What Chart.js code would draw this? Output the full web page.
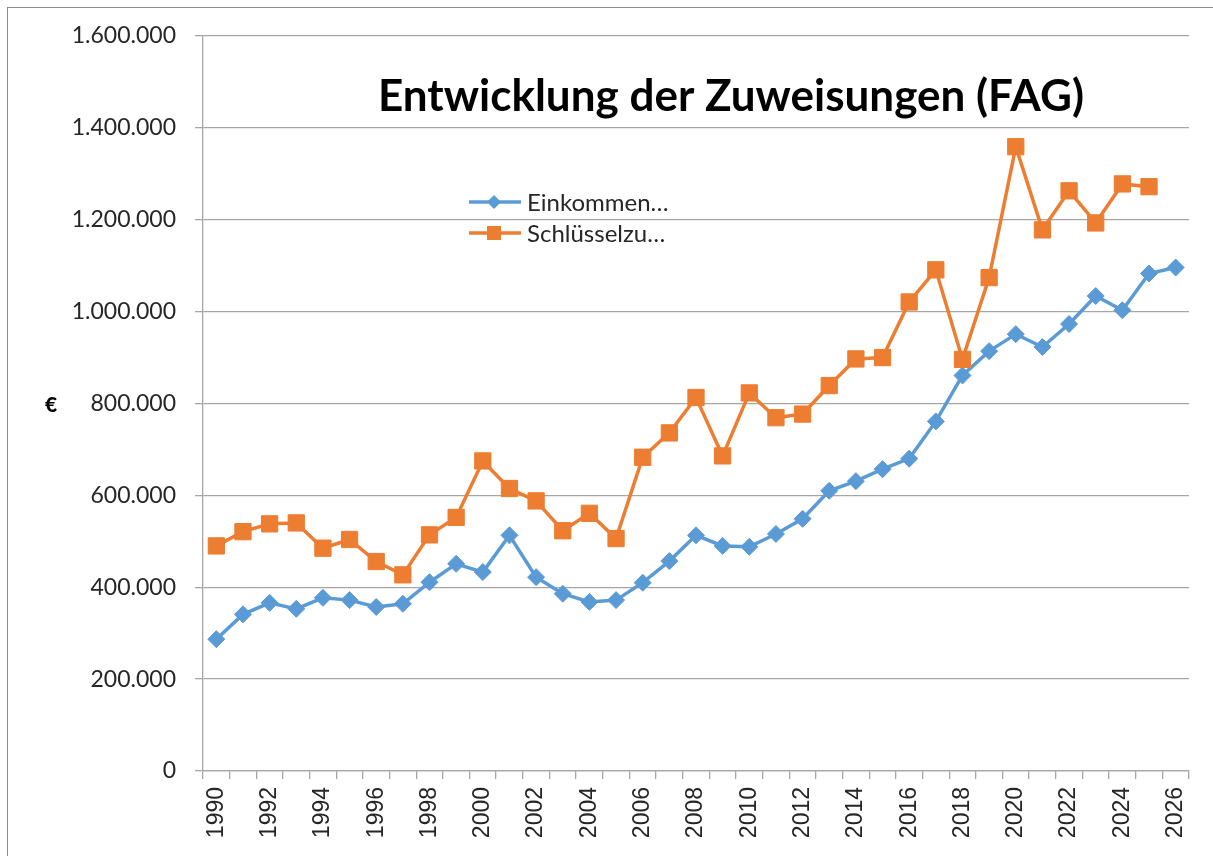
<!DOCTYPE html>
<html lang="de">
<head>
<meta charset="utf-8">
<title>Entwicklung der Zuweisungen (FAG)</title>
<script src="https://cdn.jsdelivr.net/npm/chart.js"></script>
<style>
  html, body { margin: 0; padding: 0; background: #fff; overflow: hidden; }
  #wrap { position: relative; width: 1213px; height: 856px; }
  #frame {
    position: absolute; left: 7px; top: 7px; width: 1300px; height: 1000px;
    border-left: 1px solid #8c8c8c; border-top: 1px solid #8c8c8c;
  }
  #chart { position: absolute; left: 0; top: 0; }
</style>
</head>
<body>
<div id="wrap">
  <div id="frame"></div>
  <canvas id="chart" width="1213" height="856"></canvas>
</div>
<script>
// Jahre (Kategorien)
const years = ["1990", "1991", "1992", "1993", "1994", "1995", "1996", "1997", "1998", "1999",
  "2000", "2001", "2002", "2003", "2004", "2005", "2006", "2007", "2008", "2009",
  "2010", "2011", "2012", "2013", "2014", "2015", "2016", "2017", "2018", "2019",
  "2020", "2021", "2022", "2023", "2024", "2025", "2026"]

// Einkommensteueranteil (blau)
const einkommen = [287000, 341000, 366000, 353000, 377000, 372000, 357000, 364000, 411000, 451000,
  433000, 513000, 422000, 386000, 368000, 372000, 410000, 457000, 513000, 490000,
  488000, 516000, 549000, 610000, 631000, 657000, 680000, 761000, 861000, 914000,
  951000, 923000, 973000, 1034000, 1003000, 1083000, 1096000]

// Schlüsselzuweisungen (orange)
const schluessel = [490000, 521000, 538000, 540000, 485000, 504000, 456000, 427000, 514000, 552000,
  675000, 615000, 588000, 523000, 561000, 506000, 683000, 736000, 813000, 686000,
  823000, 769000, 777000, 839000, 897000, 900000, 1021000, 1091000, 896000, 1074000,
  1359000, 1178000, 1263000, 1193000, 1278000, 1272000, null]

const seriesNames = ["Einkommen\u2026", "Schlüsselzu\u2026"]
const titleText = "Entwicklung der Zuweisungen (FAG)"

const BLUE = "#5b9bd5"
const ORANGE = "#ed7d31"
const GRID = "#a6a6a6"
const TEXT = "#262626"

// deutsche Tausendertrennung
function formatDe(v) {
  return String(v).replace(/\B(?=(\d{3})+(?!\d))/g, ".")
}

// Titel, Einheit und Legende direkt auf die Zeichenfläche
const overlayPlugin = {
  id: "overlay",
  afterDraw(chart) {
    const ctx = chart.ctx
    ctx.save()

    // Titel
    ctx.fillStyle = "#000"
    ctx.font = "bold 44px Lato"
    ctx.textAlign = "center"
    ctx.textBaseline = "alphabetic"
    ctx.fillText(titleText, 731, 111)

    // Einheit links
    ctx.font = "900 21px Lato"
    ctx.fillText("€", 51, 412)

    // Legende
    const items = [
      { label: seriesNames[0], color: BLUE, y: 202, marker: "diamond" },
      { label: seriesNames[1], color: ORANGE, y: 233, marker: "square" },
    ]
    ctx.textAlign = "left"
    ctx.textBaseline = "middle"
    ctx.font = "24px Lato"
    items.forEach((it) => {
      ctx.strokeStyle = it.color
      ctx.lineWidth = 3.5
      ctx.beginPath()
      ctx.moveTo(469, it.y)
      ctx.lineTo(521, it.y)
      ctx.stroke()
      ctx.fillStyle = it.color
      ctx.beginPath()
      if (it.marker === "diamond") {
        ctx.moveTo(494, it.y - 7)
        ctx.lineTo(501, it.y)
        ctx.lineTo(494, it.y + 7)
        ctx.lineTo(487, it.y)
        ctx.closePath()
      } else {
        ctx.rect(487, it.y - 7, 14, 14)
      }
      ctx.fill()
      ctx.fillStyle = TEXT
      ctx.fillText(it.label, 527, it.y + 1)
    })

    ctx.restore()
  },
}

const ctx = document.getElementById("chart")

new Chart(ctx, {
  type: "line",
  data: {
    labels: years,
    datasets: [
      {
        label: seriesNames[0],
        data: einkommen,
        borderColor: BLUE,
        backgroundColor: BLUE,
        borderWidth: 3.5,
        pointStyle: "rectRot",
        pointRadius: 8.5,
        pointBorderWidth: 1,
        pointBackgroundColor: BLUE,
        pointBorderColor: BLUE,
        tension: 0,
        order: 1,
      },
      {
        label: seriesNames[1],
        data: schluessel,
        borderColor: ORANGE,
        backgroundColor: ORANGE,
        borderWidth: 3.5,
        pointStyle: "rect",
        pointRadius: 11.5,
        pointBorderWidth: 1,
        pointBackgroundColor: ORANGE,
        pointBorderColor: ORANGE,
        tension: 0,
        order: 0,
      },
    ],
  },
  options: {
    responsive: false,
    animation: false,
    layout: {
      padding: { top: 36, right: 24, bottom: 0, left: 0 },
    },
    plugins: {
      legend: { display: false },
      title: { display: false },
      tooltip: { enabled: false },
    },
    scales: {
      x: {
        offset: true,
        grid: {
          display: true,
          drawOnChartArea: false,
          drawTicks: true,
          offset: true,
          tickLength: 8,
          color: GRID,
          lineWidth: 1.3,
        },
        border: { color: GRID, width: 1.3 },
        ticks: {
          autoSkip: false,
          maxRotation: 90,
          minRotation: 90,
          padding: 8,
          color: TEXT,
          font: { family: "Liberation Sans", size: 23 },
          callback: function (value, index) {
            return index % 2 === 0 ? this.getLabelForValue(value) : ""
          },
        },
        afterFit(scale) {
          scale.height = 85
        },
      },
      y: {
        min: 0,
        max: 1600000,
        grid: {
          color: GRID,
          lineWidth: 1.3,
          tickLength: 8,
        },
        border: { color: GRID, width: 1.3 },
        ticks: {
          stepSize: 200000,
          padding: 19,
          color: TEXT,
          font: { family: "Lato", size: 23 },
          callback: (v) => formatDe(v),
        },
        afterFit(scale) {
          scale.width = 203
        },
      },
    },
  },
  plugins: [overlayPlugin],
})
</script>
</body>
</html>
